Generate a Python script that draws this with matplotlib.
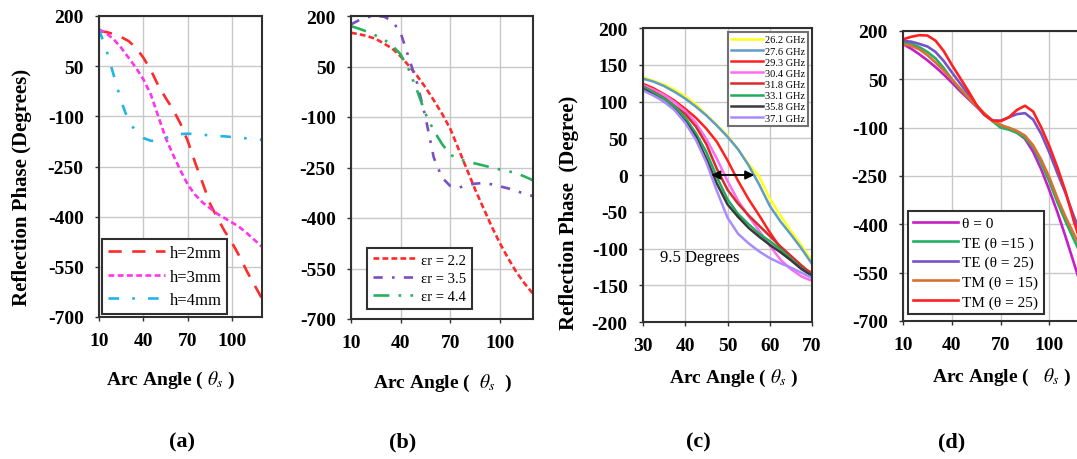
import matplotlib
matplotlib.use('Agg')
import matplotlib.pyplot as plt

plt.rcParams['font.family'] = ['Liberation Serif', 'DejaVu Serif']
plt.rcParams['mathtext.fontset'] = 'stix'
plt.rcParams['axes.unicode_minus'] = False

# ---------------- data ----------------
# (a) effect of substrate height
ang_a = [10, 15, 20, 25, 30, 35, 40, 45, 50, 55, 60, 65, 70, 75, 80, 85, 90, 95, 100, 105, 110, 115, 120]
h2mm = [155, 152, 146, 137, 125, 105, 75, 38, -8, -45, -80, -122, -175, -240, -300, -362, -405, -445, -480, -520, -565, -605, -645]
h3mm = [160, 148, 130, 105, 75, 45, 10, -35, -100, -165, -215, -262, -305, -335, -358, -375, -392, -405, -418, -432, -450, -470, -490]
h4mm = [160, 98, 22, -55, -115, -145, -165, -173, -174, -165, -156, -153, -152, -153, -155, -157, -159, -160, -162, -164, -166, -168, -170]

# (b) effect of permittivity
ang_b = ang_a
er22 = [150, 146, 140, 132, 118, 103, 80, 52, 22, -12, -50, -90, -135, -195, -255, -315, -370, -425, -475, -520, -561, -595, -625]
er35 = [175, 188, 197, 200, 198, 185, 150, 75, 0, -100, -220, -280, -305, -310, -303, -298, -296, -300, -306, -312, -320, -328, -335]
er44 = [170, 162, 153, 142, 130, 112, 86, 40, -22, -90, -140, -180, -212, -225, -232, -238, -244, -250, -256, -261, -267, -277, -288]

# (c) frequency sweep
ang_c = [30, 32.5, 35, 37.5, 40, 42.5, 45, 47.5, 50, 52.5, 55, 57.5, 60, 62.5, 65, 67.5, 70]
f_labels = ['26.2 GHz', '27.6 GHz', '29.3 GHz', '30.4 GHz', '31.8 GHz', '33.1 GHz', '35.8 GHz', '37.1 GHz']
f262 = [133, 128, 123, 116, 107, 96, 82, 68, 54, 35, 15, -2, -32, -55, -76, -96, -117]
f276 = [131, 127, 121, 113, 104, 93, 81, 67, 52, 35, 13, -13, -42, -63, -81, -100, -121]
f293 = [124, 118, 110, 101, 90, 78, 63, 45, 20, -8, -33, -55, -78, -99, -115, -126, -133]
f304 = [122, 116, 109, 99, 87, 71, 49, 22, -8, -35, -56, -76, -96, -115, -128, -138, -144]
f318 = [120, 113, 105, 94, 83, 66, 42, 8, -20, -39, -55, -69, -83, -97, -110, -123, -135]
f331 = [120, 112, 104, 93, 78, 57, 31, -3, -33, -53, -67, -80, -90, -101, -114, -127, -137]
f358 = [117, 109, 100, 89, 73, 52, 22, -12, -40, -57, -72, -84, -95, -105, -116, -128, -137]
f371 = [115, 108, 100, 88, 71, 48, 17, -22, -58, -80, -93, -104, -113, -120, -126, -133, -140]
arrow_from = 45.5
arrow_to = 57.0

# (d) oblique incidence
ang_d = ang_a
inc_labels = ['θ = 0', 'TE (θ =15 )', 'TE (θ = 25)', 'TM (θ = 15)', 'TM (θ = 25)']
th0 = [159, 145, 128, 109, 88, 65, 40, 14, -10, -34, -58, -78, -92, -102, -115, -135, -175, -230, -295, -364, -440, -520, -600]
te15 = [164, 160, 150, 135, 115, 85, 50, 20, -5, -32, -56, -80, -100, -106, -116, -132, -160, -210, -268, -333, -392, -447, -500]
te25 = [169, 167, 160, 152, 135, 107, 72, 38, 5, -30, -60, -78, -78, -68, -58, -55, -75, -120, -178, -243, -305, -375, -440]
tm15 = [159, 154, 143, 125, 102, 77, 50, 22, -5, -32, -56, -78, -92, -100, -110, -125, -155, -200, -255, -320, -378, -430, -480]
tm25 = [174, 182, 187, 186, 170, 138, 95, 55, 15, -28, -60, -78, -80, -68, -45, -32, -50, -100, -158, -225, -300, -390, -470]

yt_big = [200, 50, -100, -250, -400, -550, -700]
yt_c = [200, 150, 100, 50, 0, -50, -100, -150, -200]

# ---------------- layout ----------------
W, H = 1077, 460
fig = plt.figure(figsize=(W / 100, H / 100), dpi=100)
fig.patch.set_facecolor('white')

TICK_FS = 14
XLAB_FS = 14
YLAB_FS = 15


def make_axes(l, t, r, b):
    ax = fig.add_axes([l / W, 1 - b / H, (r - l) / W, (b - t) / H])
    ax.grid(True, color='#c8c8c8', linewidth=1.0)
    ax.set_axisbelow(True)
    for s in ax.spines.values():
        s.set_color('#303030')
        s.set_linewidth(1.5)
    ax.tick_params(direction='out', length=3, width=1, colors='#303030',
                   labelcolor='black', labelsize=TICK_FS, pad=8)
    return ax


def bold_ticks(ax):
    for lab in ax.get_xticklabels() + ax.get_yticklabels():
        lab.set_fontweight('bold')


def place_label(ax, rect, which, cx, cy):
    l, t, r, b = rect
    lab = ax.xaxis.label if which == 'x' else ax.yaxis.label
    axis = ax.xaxis if which == 'x' else ax.yaxis
    axis.set_label_coords((cx - l) / (r - l), (b - cy) / (b - t))
    lab.set_va('center')
    lab.set_ha('center')


def legend_at(ax, rect, handles, labels, loc, px, **kw):
    l, t, r, b = rect
    anchor = ((px[0] - l) / (r - l), (b - px[1]) / (b - t))
    leg = ax.legend(handles, labels, loc=loc, bbox_to_anchor=anchor,
                    borderaxespad=0, fancybox=False, framealpha=1, **kw)
    leg.get_frame().set_edgecolor('#303030')
    leg.get_frame().set_linewidth(1.5)
    return leg


# ---------------- (a) ----------------
ra = (99, 17, 262, 318)
ax = make_axes(*ra)
la1, = ax.plot(ang_a, h2mm, color='#ff2b2b', lw=1.9, dashes=(5, 4))
la2, = ax.plot(ang_a, h3mm, color='#ff33ee', lw=1.9, dashes=(2.2, 1.3))
la3, = ax.plot(ang_a, h4mm, color='#22b4e8', lw=1.9, dashes=(4, 5, 1, 5))
ax.set_xlim(10, 120)
ax.set_ylim(-700, 200)
ax.set_xticks([10, 40, 70, 100])
ax.set_yticks(yt_big)
bold_ticks(ax)
ax.set_xlabel('Arc Angle ( $\\theta_s$ )', fontsize=XLAB_FS, fontweight='bold')
ax.set_ylabel('Reflection Phase (Degrees)', fontsize=YLAB_FS, fontweight='bold')
place_label(ax, ra, 'x', 171, 380)
place_label(ax, ra, 'y', 22, 187)
legend_at(ax, ra, [la1, la2, la3], ['h=2mm', 'h=3mm', 'h=4mm'], 'lower left', (102, 315),
          fontsize=12, handlelength=3.4, labelspacing=0.45, handletextpad=0.3,
          borderpad=0.35)

# ---------------- (b) ----------------
rb = (351, 17, 533, 320)
ax = make_axes(*rb)
lb1, = ax.plot(ang_b, er22, color='#ff2b2b', lw=1.9, dashes=(2.2, 1.2))
lb2, = ax.plot(ang_b, er35, color='#7b4fc4', lw=1.9, dashes=(3.5, 3.5, 1, 3.5))
lb3, = ax.plot(ang_b, er44, color='#28b05a', lw=1.9, dashes=(6, 3.5, 1, 3.5, 1, 3.5))
ax.set_xlim(10, 120)
ax.set_ylim(-700, 200)
ax.set_xticks([10, 40, 70, 100])
ax.set_yticks(yt_big)
bold_ticks(ax)
ax.set_xlabel('Arc Angle (  $\\theta_s$  )', fontsize=XLAB_FS, fontweight='bold')
place_label(ax, rb, 'x', 443, 383)
legend_at(ax, rb, [lb1, lb2, lb3], ['εr = 2.2', 'εr = 3.5', 'εr = 4.4'], 'lower left', (367, 310),
          fontsize=10.5, handlelength=3.0, labelspacing=0.35, handletextpad=0.3,
          borderpad=0.4)

# ---------------- (c) ----------------
rc = (643, 29, 812, 323)
ax = make_axes(*rc)
c_series = [f262, f276, f293, f304, f318, f331, f358, f371]
c_colors = ['#ffff1a', '#5f9cc8', '#ff2020', '#ff6cf0', '#d92b2b', '#22aa5e', '#3a3a3a', '#a88cff']
c_lines = []
for vals, col in zip(c_series, c_colors):
    ln, = ax.plot(ang_c, vals, color=col, lw=1.8)
    c_lines.append(ln)
ax.annotate('', xy=(arrow_from, 0), xytext=(arrow_to, 0),
            arrowprops=dict(arrowstyle='<|-|>', color='black', lw=1.3, mutation_scale=13))
ax.text(34, -112, '9.5 Degrees', fontsize=12, ha='left', va='center')
ax.set_xlim(30, 70)
ax.set_ylim(-200, 200)
ax.set_xticks([30, 40, 50, 60, 70])
ax.set_yticks(yt_c)
bold_ticks(ax)
ax.set_xlabel('Arc Angle ( $\\theta_s$ )', fontsize=XLAB_FS, fontweight='bold')
ax.set_ylabel('Reflection Phase  (Degree)', fontsize=YLAB_FS, fontweight='bold')
place_label(ax, rc, 'x', 734, 378)
place_label(ax, rc, 'y', 569, 213)
leg = legend_at(ax, rc, c_lines, f_labels, 'upper right', (808, 33),
                fontsize=7.5, handlelength=3.0, labelspacing=0.18, handletextpad=0.2,
                borderpad=0.3)
leg.get_frame().set_edgecolor('#707070')

# ---------------- (d) ----------------
rd = (903, 32, 1082, 322)
ax = make_axes(*rd)
d_series = [th0, te15, te25, tm15, tm25]
d_colors = ['#c41fc4', '#22b062', '#7a52c8', '#d8722e', '#ff2020']
d_lines = []
for vals, col in zip(d_series, d_colors):
    ln, = ax.plot(ang_d, vals, color=col, lw=1.9)
    d_lines.append(ln)
ax.set_xlim(10, 120)
ax.set_ylim(-700, 200)
ax.set_xticks([10, 40, 70, 100])
ax.set_yticks(yt_big)
bold_ticks(ax)
ax.set_xlabel('Arc Angle (   $\\theta_s$ )', fontsize=XLAB_FS, fontweight='bold')
place_label(ax, rd, 'x', 1002, 377)
legend_at(ax, rd, d_lines, inc_labels, 'lower left', (908, 315),
          fontsize=11, handlelength=2.9, labelspacing=0.38, handletextpad=0.3,
          borderpad=0.35)

# panel captions
for txt, x in [('(a)', 182), ('(b)', 403), ('(c)', 698), ('(d)', 952)]:
    fig.text(x / W, 1 - 442 / H, txt, fontsize=16, fontweight='bold', ha='center', va='center')

fig.savefig('out.png', dpi=100, facecolor='white')
